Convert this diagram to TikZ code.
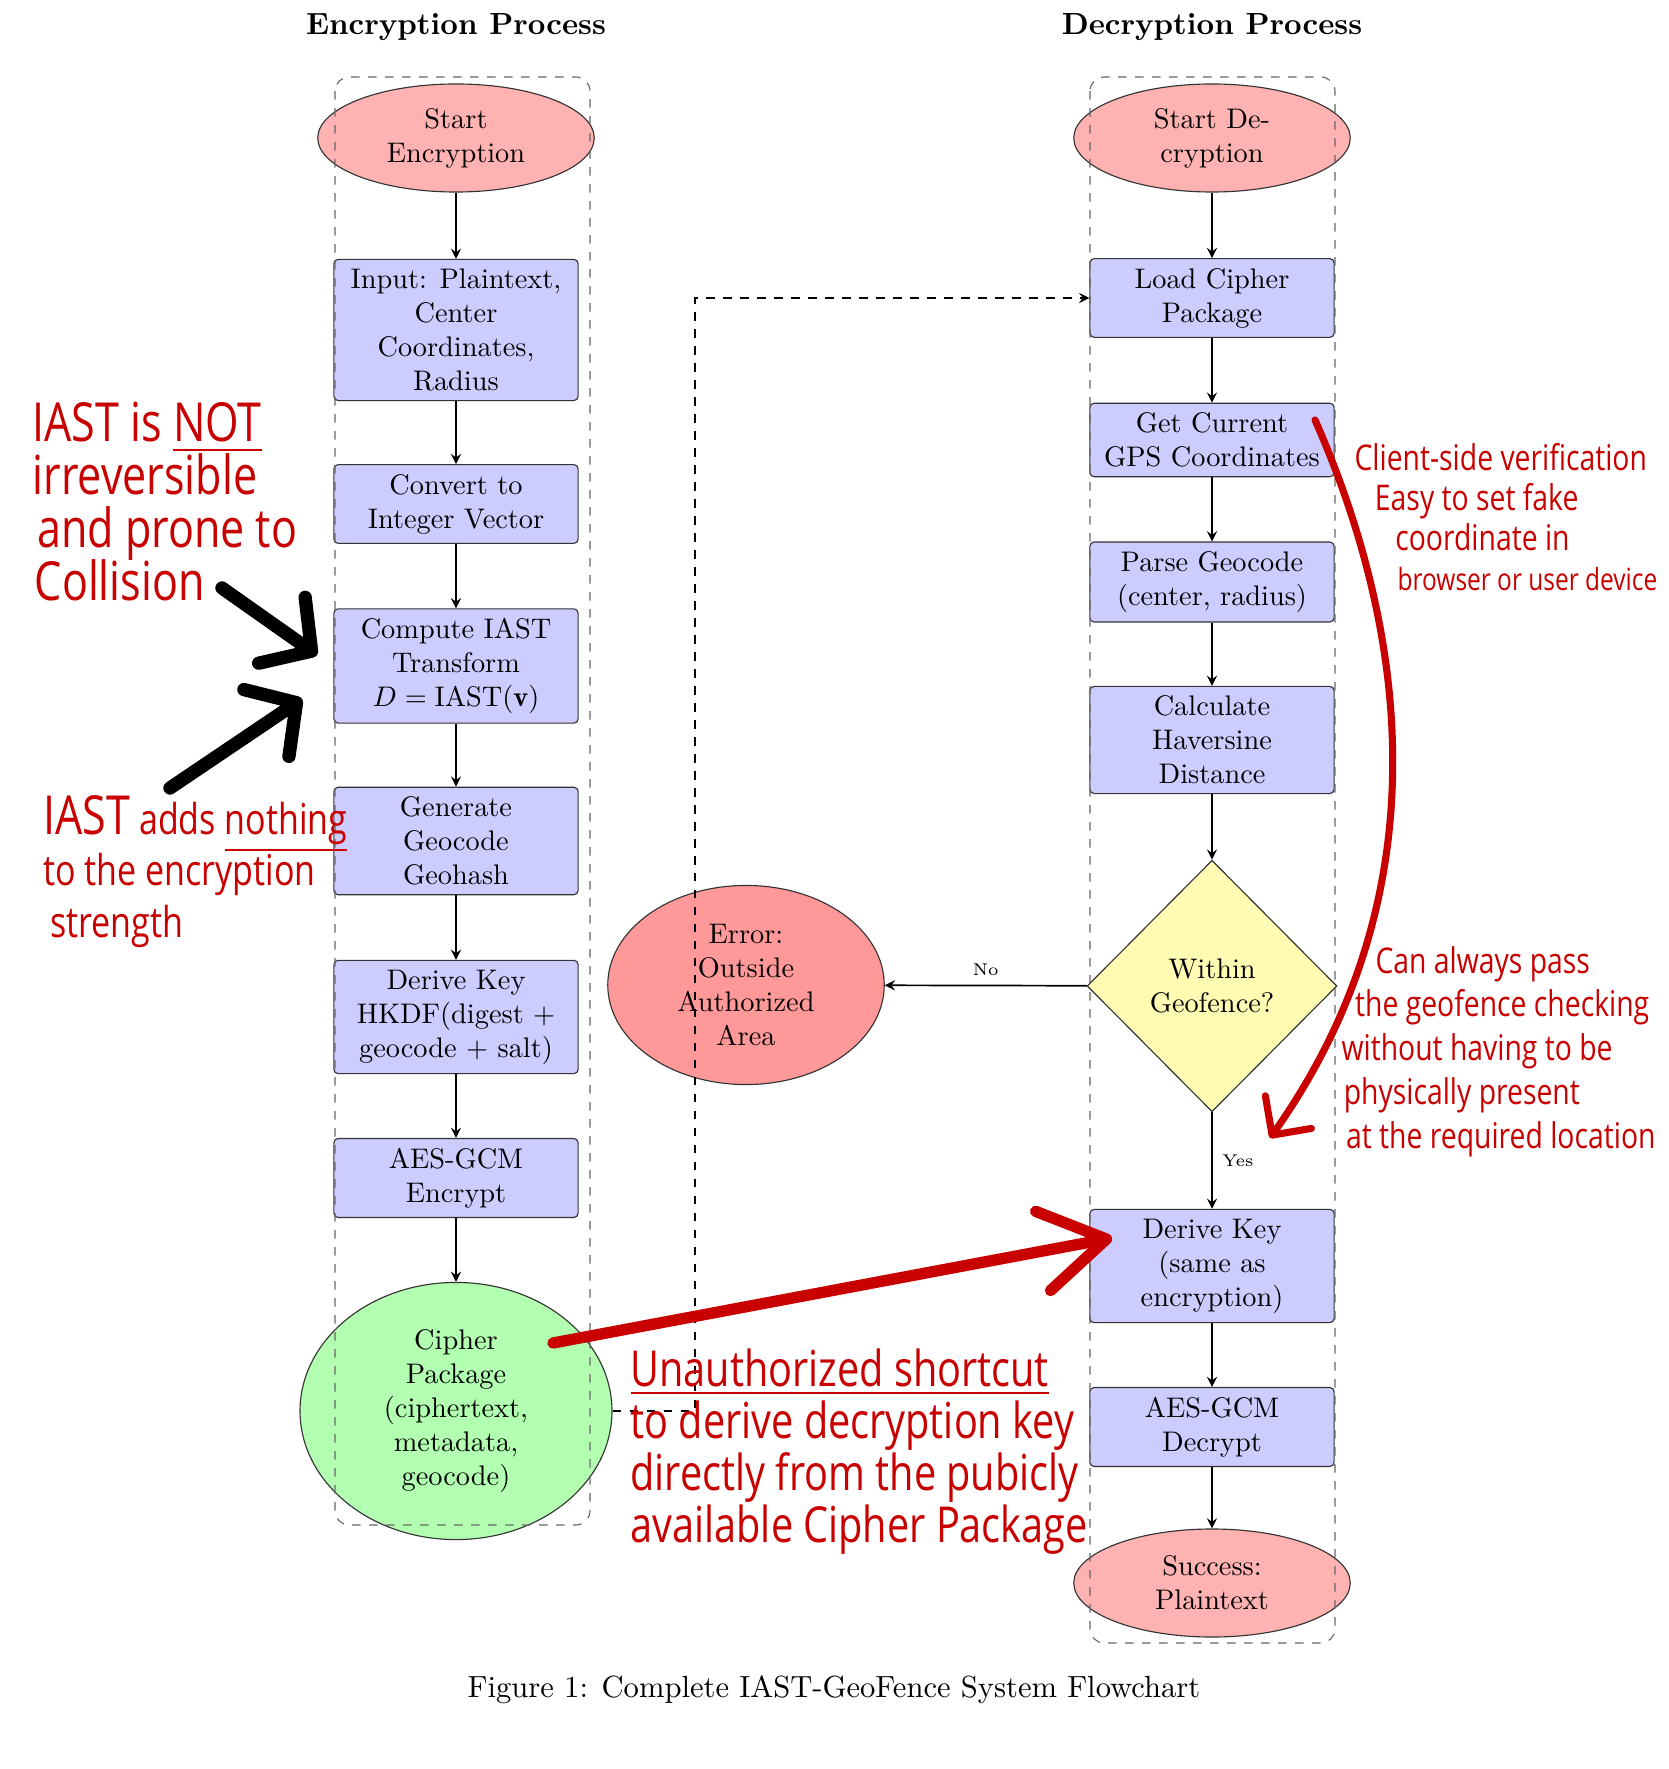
\documentclass[tikz,border=0pt]{standalone}
\usepackage{amsmath}
\usepackage{amssymb}
\usepackage{fontspec}
\usepackage{tikz}
\usetikzlibrary{shapes.geometric}
\usetikzlibrary{arrows.meta}
\newfontfamily\handfont{Open Sans}
\definecolor{inkred}{RGB}{200,0,0}
\tikzset{
	processstyle/.style={rectangle,rounded corners=1.5pt,draw=black!80,fill=blue!20,minimum width=3.03cm,align=center},
	terminalstyle/.style={ellipse,draw=black!80,fill=red!30,inner sep=1pt,minimum width=3.43cm,minimum height=1.34cm,align=center},
	errorstyle/.style={ellipse,draw=black!80,fill=red!40,inner sep=1pt,minimum width=3.43cm,minimum height=2.47cm,align=center},
	packagestyle/.style={ellipse,draw=black!80,fill=green!30,inner sep=1pt,minimum width=3.87cm,minimum height=3.19cm,align=center},
	decisionstyle/.style={diamond,draw=black!80,fill=yellow!30,inner sep=1pt,minimum width=3.1cm,minimum height=3.12cm,align=center},
	titlestyle/.style={font=\bfseries\fontsize{10.8}{13}\selectfont},
	groupstyle/.style={draw=black!60,dashed,rounded corners=5pt},
	flowstyle/.style={semithick,-stealth},
	notestyle/.style={text=inkred,inner sep=0pt,anchor=base west},
	inkstyle/.style={draw=inkred,line width=4pt,line cap=round,line join=round},
	penstyle/.style={draw=black,line width=4.7pt,line cap=round,line join=round}
}
\newcommand{\scrawl}[3]{\scalebox{0.8}[1]{\parbox[t]{12cm}{\handfont\fontsize{#1}{#2}\selectfont\lineskiplimit=-30pt\raggedright #3}}}

\begin{document}
\begin{tikzpicture}[x=0.0124cm,y=-0.0124cm]
		\useasboundingbox (0,0) rectangle (1668,1769);
		\node[titlestyle] (enctitle) at (456,27) {Encryption Process};
		\node[titlestyle] (dectitle) at (1212,27) {Decryption Process};
		\node[terminalstyle] (starte) at (456,138) {Start\\Encryption};
		\node[processstyle] (input) at (456,330) {Input: Plaintext,\\Center\\Coordinates,\\Radius};
		\node[processstyle] (convert) at (456,504) {Convert to\\Integer Vector};
		\node[processstyle] (iast) at (456,666) {Compute IAST\\Transform\\$D=\mathrm{IAST}(\mathbf{v})$};
		\node[processstyle] (geocode) at (456,841) {Generate\\Geocode\\Geohash};
		\node[processstyle] (derivee) at (456,1017) {Derive Key\\HKDF(digest $+$\\geocode $+$ salt)};
		\node[processstyle] (encrypt) at (456,1178) {AES-GCM\\Encrypt};
		\node[packagestyle] (cipher) at (456,1411) {Cipher\\Package\\(ciphertext,\\metadata,\\geocode)};
		\node[terminalstyle] (startd) at (1212,138) {Start De-\\cryption};
		\node[processstyle] (load) at (1212,298) {Load Cipher\\Package};
		\node[processstyle] (gps) at (1212,440) {Get Current\\GPS Coordinates};
		\node[processstyle] (parse) at (1212,582) {Parse Geocode\\(center, radius)};
		\node[processstyle] (haversine) at (1212,740) {Calculate\\Haversine\\Distance};
		\node[decisionstyle] (inside) at (1212,986) {Within\\Geofence?};
		\node[processstyle] (derived) at (1212,1266) {Derive Key\\(same as\\encryption)};
		\node[processstyle] (decrypt) at (1212,1427) {AES-GCM\\Decrypt};
		\node[terminalstyle] (success) at (1212,1583) {Success:\\Plaintext};
		\node[errorstyle] (outside) at (746,985) {Error:\\Outside\\Authorized\\Area};
		\node[font=\fontsize{10.8}{13}\selectfont] (caption) at (834,1690) {Figure 1: Complete IAST-GeoFence System Flowchart};
		\draw[flowstyle] (starte)--(input);
		\draw[flowstyle] (input)--(convert);
		\draw[flowstyle] (convert)--(iast);
		\draw[flowstyle] (iast)--(geocode);
		\draw[flowstyle] (geocode)--(derivee);
		\draw[flowstyle] (derivee)--(encrypt);
		\draw[flowstyle] (encrypt)--(cipher);
		\draw[flowstyle] (startd)--(load);
		\draw[flowstyle] (load)--(gps);
		\draw[flowstyle] (gps)--(parse);
		\draw[flowstyle] (parse)--(haversine);
		\draw[flowstyle] (haversine)--(inside);
		\draw[flowstyle] (inside)--node[above,font=\fontsize{6}{7}\selectfont]{No}(outside);
		\draw[flowstyle] (inside)--node[right,font=\fontsize{6}{7}\selectfont]{Yes}(derived);
		\draw[flowstyle] (derived)--(decrypt);
		\draw[flowstyle] (decrypt)--(success);
		\draw[groupstyle] (335,77) rectangle (590,1525);
		\draw[groupstyle] (1090,77) rectangle (1335,1643);
		\coordinate (bend) at (695,298);
		\draw[flowstyle,dashed] (cipher.east)--(cipher.east -| bend)|-(load.west);
		\node[notestyle] (nocollide) at (32,442) {\scrawl{19}{18.7}{IAST is \underline{NOT}\\irreversible\\\hspace*{2pt}and prone to\\\hspace*{1pt}Collision}};
		\node[notestyle] (nostrength) at (43,834) {\scrawl{15}{18.3}{{\fontsize{19}{18.3}\selectfont IAST} adds \underline{nothing}\\to the encryption\\\hspace*{3pt}strength}};
		\node[notestyle] (clientside) at (1354,471) {\scrawl{12.5}{14.1}{Client-side verification\\\hspace*{9pt}Easy to set fake\\\hspace*{18pt}coordinate in\\\hspace*{19pt}{\fontsize{10.8}{14.1}\selectfont browser or user device}}};
		\node[notestyle] (alwayspass) at (1341,973) {\scrawl{12.5}{15.5}{\hspace*{15pt}Can always pass\\\hspace*{6pt}the geofence checking\\without having to be\\\hspace*{1pt}physically present\\\hspace*{2pt}at the required location}};
		\node[notestyle] (shortcut) at (630,1386) {\scrawl{17.5}{18.4}{\underline{Unauthorized shortcut}\\to derive decryption key\\directly from the pubicly\\available Cipher Package}};
		\coordinate (collidefrom) at (222,588);
		\coordinate (collideto) at (317,655);
		\coordinate (weakfrom) at (170,788);
		\coordinate (weakto) at (302,699);
		\draw[penstyle,-{Straight Barb[length=4.5mm,width=10mm,round]}] (collidefrom)--(collideto);
		\draw[penstyle,-{Straight Barb[length=4.5mm,width=10mm,round]}] (weakfrom)--(weakto);
		\coordinate (leakfrom) at (553,1343);
		\coordinate (leakto) at (1112,1238);
		\draw[inkstyle,-{Straight Barb[length=8mm,width=10mm,round]}] (leakfrom)--(leakto);
		\coordinate (spooffrom) at (1315,420);
		\coordinate (spoofto) at (1270,1138);
		\draw[inkstyle,line width=2.5pt,-{Straight Barb[length=3.5mm,width=7mm,round]}] (spooffrom) .. controls (1390,590) and (1460,870) .. (spoofto);
		\end{tikzpicture}
\end{document}
